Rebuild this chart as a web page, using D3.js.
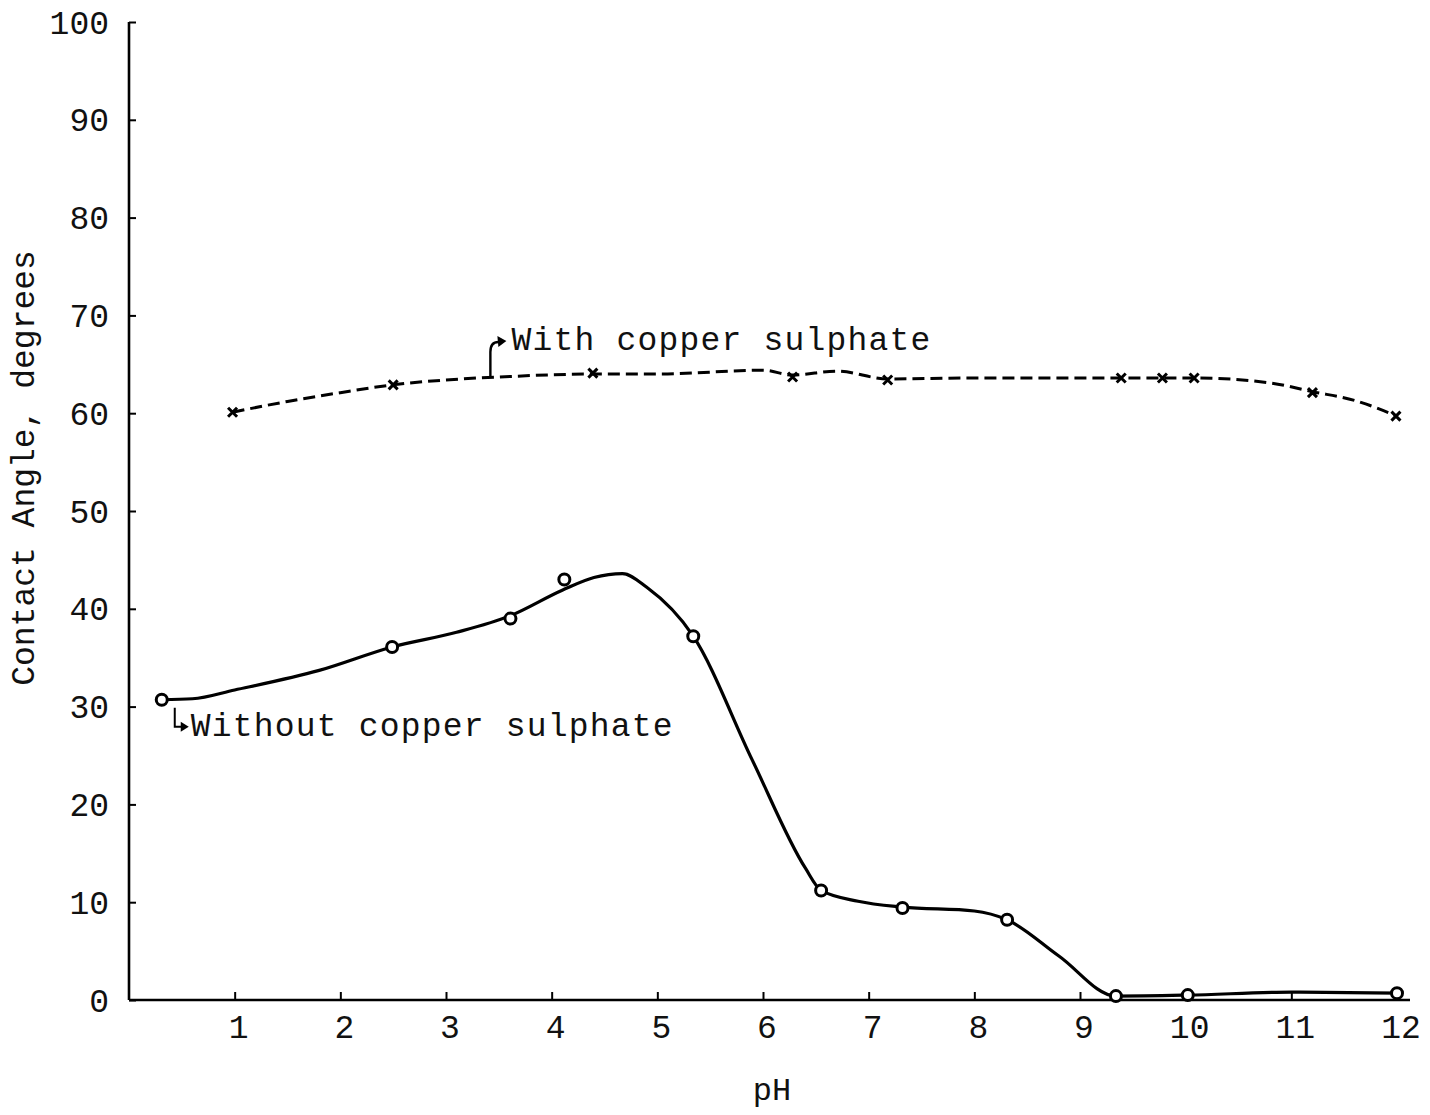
<!DOCTYPE html>
<html>
<head>
<meta charset="utf-8">
<script src="https://cdn.jsdelivr.net/npm/d3@7"></script>
<style>
  body { margin: 0; background: #fff; }
  svg text { font-family: "Liberation Mono", "DejaVu Sans Mono", monospace; fill: #111; }
</style>
</head>
<body>
<div id="chart"></div>
<script>
var width = 1430;
var height = 1115;

var withoutPH = [0.31, 2.49, 3.61, 4.12, 5.34, 6.55, 7.32, 8.31, 9.34, 10.02, 12.0];
var withoutAngle = [30.7, 36.1, 39.0, 43.0, 37.2, 11.2, 9.4, 8.2, 0.4, 0.5, 0.7];

var withPH = [0.98, 2.50, 4.39, 6.28, 7.18, 9.39, 9.78, 10.08, 11.2, 11.99];
var withAngle = [60.1, 62.9, 64.1, 63.7, 63.4, 63.6, 63.6, 63.6, 62.1, 59.7];

// hand drawn curves
var withoutCurvePH = [0.31, 0.6, 1.0, 1.8, 2.49, 3.1, 3.61, 4.1, 4.4, 4.67, 4.9, 5.34, 5.9, 6.4, 6.55, 6.9, 7.32, 8.0, 8.31, 8.8, 9.34, 10.02, 11.0, 12.0];
var withoutCurveAngle = [30.7, 30.8, 31.7, 33.7, 36.1, 37.6, 39.3, 41.9, 43.2, 43.6, 42.2, 37.2, 24.5, 13.5, 11.2, 10.1, 9.5, 9.1, 8.2, 4.5, 0.4, 0.5, 0.8, 0.7];

var withCurvePH = [0.98, 1.5, 2.0, 2.5, 3.0, 3.5, 4.39, 5.0, 6.0, 6.28, 6.7, 7.18, 8.0, 9.0, 10.08, 10.8, 11.2, 11.6, 12.0];
var withCurveAngle = [60.1, 61.2, 62.1, 62.9, 63.4, 63.7, 64.0, 64.0, 64.4, 63.9, 64.3, 63.5, 63.6, 63.6, 63.6, 63.1, 62.2, 61.3, 59.7];

var xTicks = [1, 2, 3, 4, 5, 6, 7, 8, 9, 10, 11, 12];
var yTicks = [0, 10, 20, 30, 40, 50, 60, 70, 80, 90, 100];

var margin = {left: 129, top: 22, right: 20, bottom: 115};

var svg = d3.select("#chart").append("svg")
    .attr("width", width)
    .attr("height", height);

var x = d3.scaleLinear().domain([0, 12]).range([margin.left, 1397]);
var y = d3.scaleLinear().domain([0, 100]).range([1000, margin.top]);

// axes
var xAxis = svg.append("g")
    .attr("transform", "translate(0," + y(0) + ")")
    .call(d3.axisTop(x).tickValues(xTicks).tickSize(8).tickFormat(""));
xAxis.select(".domain").attr("d", "M" + x(0) + ",0H" + (x(12) + 13));
xAxis.selectAll("line").attr("stroke-width", 2);
xAxis.select(".domain").attr("stroke-width", 2.6);

xAxis.selectAll(".lbl").data(xTicks).enter().append("text")
    .attr("x", function (d) { return x(d) + 4; })
    .attr("y", 38)
    .attr("text-anchor", "middle")
    .style("font-size", "33px")
    .text(function (d) { return d; });

var yAxis = svg.append("g")
    .attr("transform", "translate(" + x(0) + ",0)")
    .call(d3.axisRight(y).tickValues(yTicks).tickSize(7).tickFormat(""));
yAxis.select(".domain").attr("d", "M0," + y(100) + "V" + y(0));
yAxis.selectAll("line").attr("stroke-width", 2);
yAxis.select(".domain").attr("stroke-width", 2.6);

yAxis.selectAll(".lbl").data(yTicks).enter().append("text")
    .attr("x", -20)
    .attr("y", function (d) { return y(d); })
    .attr("dy", "0.35em")
    .attr("text-anchor", "end")
    .style("font-size", "33px")
    .text(function (d) { return d; });

// axis titles
svg.append("text")
    .attr("transform", "translate(34," + 468 + ") rotate(-90)")
    .attr("text-anchor", "middle")
    .style("font-size", "33px")
    .text("Contact Angle, degrees");

svg.append("text")
    .attr("x", 772)
    .attr("y", 1100)
    .attr("text-anchor", "middle")
    .style("font-size", "32px")
    .text("pH");

// curves
var withoutCurve = withoutCurvePH.map(function (d, i) { return [d, withoutCurveAngle[i]]; });
var withCurve = withCurvePH.map(function (d, i) { return [d, withCurveAngle[i]]; });

var line = d3.line()
    .x(function (d) { return x(d[0]); })
    .y(function (d) { return y(d[1]); })
    .curve(d3.curveMonotoneX);

svg.append("path")
    .attr("d", line(withoutCurve))
    .attr("fill", "none")
    .attr("stroke", "#000")
    .attr("stroke-width", 3.2);

svg.append("path")
    .attr("d", line(withCurve))
    .attr("fill", "none")
    .attr("stroke", "#000")
    .attr("stroke-width", 3)
    .attr("stroke-dasharray", "12,6");

// markers
svg.selectAll(".circ").data(withoutPH).enter().append("circle")
    .attr("cx", function (d) { return x(d); })
    .attr("cy", function (d, i) { return y(withoutAngle[i]); })
    .attr("r", 5.5)
    .attr("fill", "#fff")
    .attr("stroke", "#000")
    .attr("stroke-width", 3);

var cross = svg.selectAll(".cross").data(withPH).enter().append("g")
    .attr("transform", function (d, i) { return "translate(" + x(d) + "," + y(withAngle[i]) + ")"; });
cross.append("path")
    .attr("d", "M-4.5,-4.5L4.5,4.5M4.5,-4.5L-4.5,4.5")
    .attr("stroke", "#000")
    .attr("stroke-width", 3);

// annotations
var ax1 = x(withoutPH[0]) + 13;
var ay1 = y(withoutAngle[0]);
svg.append("path")
    .attr("d", "M" + ax1 + "," + (ay1 + 8) + "V" + (ay1 + 27) + "H" + (ax1 + 8))
    .attr("fill", "none")
    .attr("stroke", "#000")
    .attr("stroke-width", 2);
svg.append("path")
    .attr("d", "M" + (ax1 + 6) + "," + (ay1 + 22) + "L" + (ax1 + 14) + "," + (ay1 + 27) + "L" + (ax1 + 6) + "," + (ay1 + 32) + "Z")
    .attr("fill", "#000");
svg.append("text")
    .attr("x", ax1 + 16)
    .attr("y", ay1 + 36)
    .style("font-size", "33px")
    .style("letter-spacing", "1.2px")
    .text("Without copper sulphate");

var ax2 = x(3.42);
var ay2 = y(63.6);
svg.append("path")
    .attr("d", "M" + ax2 + "," + ay2 + "V" + (ay2 - 26) + "Q" + ax2 + "," + (ay2 - 36) + " " + (ax2 + 8) + "," + (ay2 - 36))
    .attr("fill", "none")
    .attr("stroke", "#000")
    .attr("stroke-width", 2.4);
svg.append("path")
    .attr("d", "M" + (ax2 + 7) + "," + (ay2 - 42) + "L" + (ax2 + 16) + "," + (ay2 - 37) + "L" + (ax2 + 8) + "," + (ay2 - 31) + "Z")
    .attr("fill", "#000");
svg.append("text")
    .attr("x", ax2 + 21)
    .attr("y", ay2 - 28)
    .style("font-size", "33px")
    .style("letter-spacing", "1.2px")
    .text("With copper sulphate");
</script>
</body>
</html>
